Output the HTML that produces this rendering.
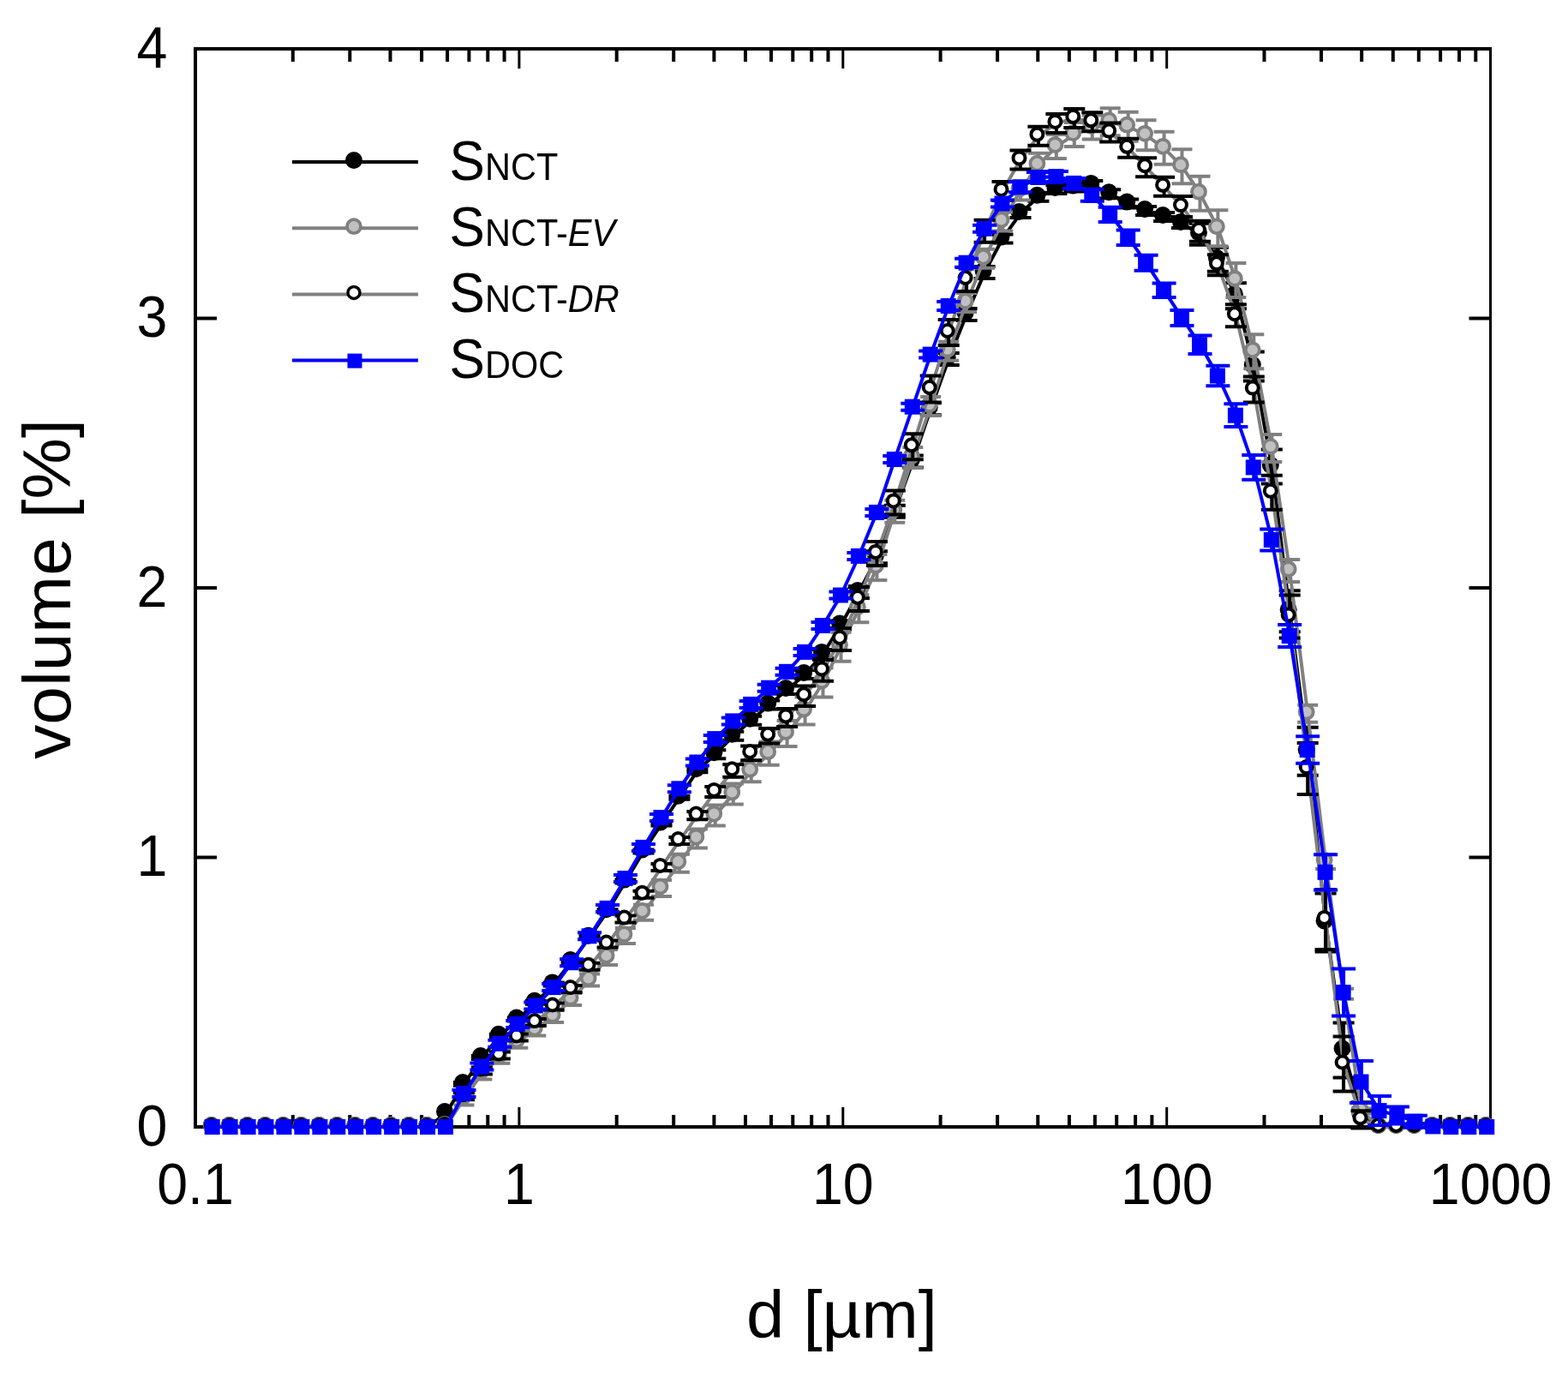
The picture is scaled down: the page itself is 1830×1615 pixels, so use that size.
<!DOCTYPE html>
<html><head><meta charset="utf-8"><title>volume vs d</title>
<style>html,body{margin:0;padding:0;background:#fff;}svg{display:block;}</style></head>
<body><svg width="1830" height="1615" viewBox="0 0 1830 1615">
<rect width="1830" height="1615" fill="#fff"/>
<path d="M341.8,1315.0V1301.0M341.8,57V72M408.3,1315.0V1301.0M408.3,57V72M455.5,1315.0V1301.0M455.5,57V72M492.1,1315.0V1301.0M492.1,57V72M522.1,1315.0V1301.0M522.1,57V72M547.4,1315.0V1301.0M547.4,57V72M569.3,1315.0V1301.0M569.3,57V72M588.6,1315.0V1301.0M588.6,57V72M719.7,1315.0V1301.0M719.7,57V72M786.2,1315.0V1301.0M786.2,57V72M833.4,1315.0V1301.0M833.4,57V72M870.0,1315.0V1301.0M870.0,57V72M900.0,1315.0V1301.0M900.0,57V72M925.3,1315.0V1301.0M925.3,57V72M947.2,1315.0V1301.0M947.2,57V72M966.5,1315.0V1301.0M966.5,57V72M1097.6,1315.0V1301.0M1097.6,57V72M1164.1,1315.0V1301.0M1164.1,57V72M1211.3,1315.0V1301.0M1211.3,57V72M1247.9,1315.0V1301.0M1247.9,57V72M1277.9,1315.0V1301.0M1277.9,57V72M1303.2,1315.0V1301.0M1303.2,57V72M1325.1,1315.0V1301.0M1325.1,57V72M1344.4,1315.0V1301.0M1344.4,57V72M1475.5,1315.0V1301.0M1475.5,57V72M1542.0,1315.0V1301.0M1542.0,57V72M1589.2,1315.0V1301.0M1589.2,57V72M1625.8,1315.0V1301.0M1625.8,57V72M1655.8,1315.0V1301.0M1655.8,57V72M1681.1,1315.0V1301.0M1681.1,57V72M1703.0,1315.0V1301.0M1703.0,57V72M1722.3,1315.0V1301.0M1722.3,57V72" stroke="#000" stroke-width="4" fill="none"/>
<path d="M605.9,1315.0V1292.0M605.9,57V80M983.8,1315.0V1292.0M983.8,57V80M1361.7,1315.0V1292.0M1361.7,57V80" stroke="#000" stroke-width="3" fill="none"/>
<path d="M228.0,1000.5H253.0M1739.5,1000.5H1714.5M228.0,686.0H253.0M1739.5,686.0H1714.5M228.0,371.5H253.0M1739.5,371.5H1714.5" stroke="#000" stroke-width="4" fill="none"/>
<path d="M226,57H1741" stroke="#000" stroke-width="4" fill="none"/>
<path d="M226,1315H1741" stroke="#000" stroke-width="4" fill="none"/>
<path d="M228,55V1317" stroke="#000" stroke-width="4" fill="none"/>
<path d="M1739.5,55V1317" stroke="#000" stroke-width="3" fill="none"/>
<path d="M248.2,1315.0 L269.1,1315.0 L290.1,1315.0 L311.0,1315.0 L332.0,1315.0 L352.9,1315.0 L373.9,1315.0 L394.8,1315.0 L415.8,1315.0 L436.7,1315.0 L457.7,1315.0 L478.6,1315.0 L499.6,1315.0 L520.5,1299.1 L541.5,1265.1 L562.4,1234.0 L583.4,1208.8 L604.3,1189.6 L625.3,1169.8 L646.2,1148.4 L667.2,1122.0 L688.1,1093.7 L709.1,1063.2 L730.0,1028.6 L751.0,993.4 L772.0,961.6 L792.9,930.8 L813.9,899.3 L834.8,880.2 L855.8,858.8 L876.7,840.8 L897.7,822.6 L918.6,805.0 L939.6,787.1 L960.5,762.9 L981.5,729.5 L1002.4,691.1 L1023.4,650.3 L1044.3,596.8 L1065.3,538.6 L1086.2,477.3 L1107.2,419.1 L1128.1,366.9 L1149.1,318.1 L1170.0,278.5 L1191.0,249.0 L1211.9,229.8 L1232.9,221.0 L1253.8,218.5 L1274.8,215.9 L1295.7,226.3 L1316.7,237.6 L1337.6,246.1 L1358.6,253.0 L1379.5,260.9 L1400.5,273.2 L1421.4,302.7 L1442.4,345.2 L1463.3,427.6 L1484.3,544.6 L1505.2,713.2 L1526.2,876.7 L1547.1,1076.4 L1568.1,1225.5 L1589.0,1301.3 L1610.0,1315.0 L1630.9,1315.0 L1651.9,1315.0 L1672.9,1315.0 L1693.8,1315.0 L1714.8,1315.0 L1735.7,1315.0" fill="none" stroke="#000" stroke-width="4" stroke-linejoin="round"/>
<path d="M541.5,1263.1V1267.1M529.0,1263.1H554.0M529.0,1267.1H554.0M562.4,1232.0V1236.0M549.9,1232.0H574.9M549.9,1236.0H574.9M583.4,1206.8V1210.8M570.9,1206.8H595.9M570.9,1210.8H595.9M604.3,1187.6V1191.6M591.8,1187.6H616.8M591.8,1191.6H616.8M625.3,1167.8V1171.8M612.8,1167.8H637.8M612.8,1171.8H637.8M646.2,1146.4V1150.4M633.7,1146.4H658.7M633.7,1150.4H658.7M667.2,1120.0V1124.0M654.7,1120.0H679.7M654.7,1124.0H679.7M688.1,1091.7V1095.7M675.6,1091.7H700.6M675.6,1095.7H700.6M709.1,1061.2V1065.2M696.6,1061.2H721.6M696.6,1065.2H721.6M730.0,1026.6V1030.6M717.5,1026.6H742.5M717.5,1030.6H742.5M751.0,991.4V995.4M738.5,991.4H763.5M738.5,995.4H763.5M772.0,959.6V963.6M759.5,959.6H784.5M759.5,963.6H784.5M792.9,928.8V932.8M780.4,928.8H805.4M780.4,932.8H805.4M813.9,897.3V901.3M801.4,897.3H826.4M801.4,901.3H826.4M834.8,875.2V885.2M822.3,875.2H847.3M822.3,885.2H847.3M855.8,853.8V863.8M843.3,853.8H868.3M843.3,863.8H868.3M876.7,835.8V845.8M864.2,835.8H889.2M864.2,845.8H889.2M897.7,817.6V827.6M885.2,817.6H910.2M885.2,827.6H910.2M918.6,800.0V810.0M906.1,800.0H931.1M906.1,810.0H931.1M939.6,782.1V792.1M927.1,782.1H952.1M927.1,792.1H952.1M960.5,757.9V767.9M948.0,757.9H973.0M948.0,767.9H973.0M981.5,724.5V734.5M969.0,724.5H994.0M969.0,734.5H994.0M1002.4,684.1V698.1M989.9,684.1H1014.9M989.9,698.1H1014.9M1023.4,643.3V657.3M1010.9,643.3H1035.9M1010.9,657.3H1035.9M1044.3,589.8V603.8M1031.8,589.8H1056.8M1031.8,603.8H1056.8M1065.3,531.6V545.6M1052.8,531.6H1077.8M1052.8,545.6H1077.8M1086.2,470.3V484.3M1073.7,470.3H1098.7M1073.7,484.3H1098.7M1107.2,412.1V426.1M1094.7,412.1H1119.7M1094.7,426.1H1119.7M1128.1,359.9V373.9M1115.6,359.9H1140.6M1115.6,373.9H1140.6M1149.1,311.1V325.1M1136.6,311.1H1161.6M1136.6,325.1H1161.6M1170.0,273.5V283.5M1157.5,273.5H1182.5M1157.5,283.5H1182.5M1191.0,244.0V254.0M1178.5,244.0H1203.5M1178.5,254.0H1203.5M1211.9,224.8V234.8M1199.4,224.8H1224.4M1199.4,234.8H1224.4M1232.9,216.0V226.0M1220.4,216.0H1245.4M1220.4,226.0H1245.4M1253.8,213.5V223.5M1241.3,213.5H1266.3M1241.3,223.5H1266.3M1274.8,210.9V220.9M1262.3,210.9H1287.3M1262.3,220.9H1287.3M1295.7,221.3V231.3M1283.2,221.3H1308.2M1283.2,231.3H1308.2M1316.7,232.6V242.6M1304.2,232.6H1329.2M1304.2,242.6H1329.2M1337.6,241.1V251.1M1325.1,241.1H1350.1M1325.1,251.1H1350.1M1358.6,248.0V258.0M1346.1,248.0H1371.1M1346.1,258.0H1371.1M1379.5,255.9V265.9M1367.0,255.9H1392.0M1367.0,265.9H1392.0M1400.5,260.7V285.7M1388.0,260.7H1413.0M1388.0,285.7H1413.0M1421.4,288.7V316.7M1408.9,288.7H1433.9M1408.9,316.7H1433.9M1442.4,330.2V360.2M1429.9,330.2H1454.9M1429.9,360.2H1454.9M1463.3,410.6V444.6M1450.8,410.6H1475.8M1450.8,444.6H1475.8M1484.3,524.6V564.6M1471.8,524.6H1496.8M1471.8,564.6H1496.8M1505.2,689.2V737.2M1492.7,689.2H1517.7M1492.7,737.2H1517.7M1526.2,848.7V904.7M1513.7,848.7H1538.7M1513.7,904.7H1538.7M1547.1,1042.4V1110.4M1534.6,1042.4H1559.6M1534.6,1110.4H1559.6M1568.1,1193.5V1257.5M1555.6,1193.5H1580.6M1555.6,1257.5H1580.6M1589.0,1286.3V1316.3M1576.5,1286.3H1601.5M1576.5,1316.3H1601.5" fill="none" stroke="#000" stroke-width="4"/>
<circle cx="246.7" cy="1313.0" r="10" fill="#000"/>
<circle cx="267.6" cy="1313.0" r="10" fill="#000"/>
<circle cx="288.6" cy="1313.0" r="10" fill="#000"/>
<circle cx="309.5" cy="1313.0" r="10" fill="#000"/>
<circle cx="330.5" cy="1313.0" r="10" fill="#000"/>
<circle cx="351.4" cy="1313.0" r="10" fill="#000"/>
<circle cx="372.4" cy="1313.0" r="10" fill="#000"/>
<circle cx="393.3" cy="1313.0" r="10" fill="#000"/>
<circle cx="414.3" cy="1313.0" r="10" fill="#000"/>
<circle cx="435.2" cy="1313.0" r="10" fill="#000"/>
<circle cx="456.2" cy="1313.0" r="10" fill="#000"/>
<circle cx="477.1" cy="1313.0" r="10" fill="#000"/>
<circle cx="498.1" cy="1313.0" r="10" fill="#000"/>
<circle cx="519.0" cy="1297.1" r="10" fill="#000"/>
<circle cx="540.0" cy="1263.1" r="10" fill="#000"/>
<circle cx="560.9" cy="1232.0" r="10" fill="#000"/>
<circle cx="581.9" cy="1206.8" r="10" fill="#000"/>
<circle cx="602.8" cy="1187.6" r="10" fill="#000"/>
<circle cx="623.8" cy="1167.8" r="10" fill="#000"/>
<circle cx="644.7" cy="1146.4" r="10" fill="#000"/>
<circle cx="665.7" cy="1120.0" r="10" fill="#000"/>
<circle cx="686.6" cy="1091.7" r="10" fill="#000"/>
<circle cx="707.6" cy="1061.2" r="10" fill="#000"/>
<circle cx="728.5" cy="1026.6" r="10" fill="#000"/>
<circle cx="749.5" cy="991.4" r="10" fill="#000"/>
<circle cx="770.5" cy="959.6" r="10" fill="#000"/>
<circle cx="791.4" cy="928.8" r="10" fill="#000"/>
<circle cx="812.4" cy="897.3" r="10" fill="#000"/>
<circle cx="833.3" cy="878.2" r="10" fill="#000"/>
<circle cx="854.3" cy="856.8" r="10" fill="#000"/>
<circle cx="875.2" cy="838.8" r="10" fill="#000"/>
<circle cx="896.2" cy="820.6" r="10" fill="#000"/>
<circle cx="917.1" cy="803.0" r="10" fill="#000"/>
<circle cx="938.1" cy="785.1" r="10" fill="#000"/>
<circle cx="959.0" cy="760.9" r="10" fill="#000"/>
<circle cx="980.0" cy="727.5" r="10" fill="#000"/>
<circle cx="1000.9" cy="689.1" r="10" fill="#000"/>
<circle cx="1021.9" cy="648.3" r="10" fill="#000"/>
<circle cx="1042.8" cy="594.8" r="10" fill="#000"/>
<circle cx="1063.8" cy="536.6" r="10" fill="#000"/>
<circle cx="1084.7" cy="475.3" r="10" fill="#000"/>
<circle cx="1105.7" cy="417.1" r="10" fill="#000"/>
<circle cx="1126.6" cy="364.9" r="10" fill="#000"/>
<circle cx="1147.6" cy="316.1" r="10" fill="#000"/>
<circle cx="1168.5" cy="276.5" r="10" fill="#000"/>
<circle cx="1189.5" cy="247.0" r="10" fill="#000"/>
<circle cx="1210.4" cy="227.8" r="10" fill="#000"/>
<circle cx="1231.4" cy="219.0" r="10" fill="#000"/>
<circle cx="1252.3" cy="216.5" r="10" fill="#000"/>
<circle cx="1273.3" cy="213.9" r="10" fill="#000"/>
<circle cx="1294.2" cy="224.3" r="10" fill="#000"/>
<circle cx="1315.2" cy="235.6" r="10" fill="#000"/>
<circle cx="1336.1" cy="244.1" r="10" fill="#000"/>
<circle cx="1357.1" cy="251.0" r="10" fill="#000"/>
<circle cx="1378.0" cy="258.9" r="10" fill="#000"/>
<circle cx="1399.0" cy="271.2" r="10" fill="#000"/>
<circle cx="1419.9" cy="300.7" r="10" fill="#000"/>
<circle cx="1440.9" cy="343.2" r="10" fill="#000"/>
<circle cx="1461.8" cy="425.6" r="10" fill="#000"/>
<circle cx="1482.8" cy="542.6" r="10" fill="#000"/>
<circle cx="1503.7" cy="711.2" r="10" fill="#000"/>
<circle cx="1524.7" cy="874.7" r="10" fill="#000"/>
<circle cx="1545.6" cy="1074.4" r="10" fill="#000"/>
<circle cx="1566.6" cy="1223.5" r="10" fill="#000"/>
<circle cx="1587.5" cy="1299.3" r="10" fill="#000"/>
<circle cx="1608.5" cy="1313.0" r="10" fill="#000"/>
<circle cx="1629.4" cy="1313.0" r="10" fill="#000"/>
<circle cx="1650.4" cy="1313.0" r="10" fill="#000"/>
<circle cx="1671.4" cy="1313.0" r="10" fill="#000"/>
<circle cx="1692.3" cy="1313.0" r="10" fill="#000"/>
<circle cx="1713.3" cy="1313.0" r="10" fill="#000"/>
<circle cx="1734.2" cy="1313.0" r="10" fill="#000"/>
<path d="M248.2,1315.0 L269.1,1315.0 L290.1,1315.0 L311.0,1315.0 L332.0,1315.0 L352.9,1315.0 L373.9,1315.0 L394.8,1315.0 L415.8,1315.0 L436.7,1315.0 L457.7,1315.0 L478.6,1315.0 L499.6,1315.0 L520.5,1313.9 L541.5,1282.4 L562.4,1252.5 L583.4,1233.7 L604.3,1215.7 L625.3,1201.6 L646.2,1185.9 L667.2,1166.0 L688.1,1143.4 L709.1,1117.0 L730.0,1092.1 L751.0,1064.8 L772.0,1036.5 L792.9,1007.2 L813.9,978.6 L834.8,951.6 L855.8,926.4 L876.7,899.7 L897.7,879.2 L918.6,855.9 L939.6,829.5 L960.5,796.5 L981.5,754.7 L1002.4,710.3 L1023.4,661.9 L1044.3,596.8 L1065.3,533.9 L1086.2,474.1 L1107.2,409.7 L1128.1,353.1 L1149.1,301.8 L1170.0,258.4 L1191.0,222.5 L1211.9,192.7 L1232.9,171.0 L1253.8,157.1 L1274.8,148.6 L1295.7,142.3 L1316.7,147.7 L1337.6,157.8 L1358.6,172.8 L1379.5,194.2 L1400.5,225.7 L1421.4,266.3 L1442.4,327.0 L1463.3,410.3 L1484.3,522.9 L1505.2,666.0 L1526.2,832.7 L1547.1,1005.6 L1568.1,1159.8 L1589.0,1296.6 L1610.0,1315.0 L1630.9,1315.0 L1651.9,1315.0 L1672.9,1315.0 L1693.8,1315.0 L1714.8,1315.0 L1735.7,1315.0" fill="none" stroke="#808080" stroke-width="4" stroke-linejoin="round"/>
<path d="M541.5,1275.4V1289.4M529.5,1275.4H553.5M529.5,1289.4H553.5M562.4,1245.5V1259.5M550.4,1245.5H574.4M550.4,1259.5H574.4M583.4,1226.7V1240.7M571.4,1226.7H595.4M571.4,1240.7H595.4M604.3,1208.7V1222.7M592.3,1208.7H616.3M592.3,1222.7H616.3M625.3,1194.6V1208.6M613.3,1194.6H637.3M613.3,1208.6H637.3M646.2,1178.9V1192.9M634.2,1178.9H658.2M634.2,1192.9H658.2M667.2,1159.0V1173.0M655.2,1159.0H679.2M655.2,1173.0H679.2M688.1,1136.4V1150.4M676.1,1136.4H700.1M676.1,1150.4H700.1M709.1,1108.0V1126.0M697.1,1108.0H721.1M697.1,1126.0H721.1M730.0,1083.1V1101.1M718.0,1083.1H742.0M718.0,1101.1H742.0M751.0,1055.8V1073.8M739.0,1055.8H763.0M739.0,1073.8H763.0M772.0,1027.0V1046.0M760.0,1027.0H784.0M760.0,1046.0H784.0M792.9,996.7V1017.7M780.9,996.7H804.9M780.9,1017.7H804.9M813.9,967.6V989.6M801.9,967.6H825.9M801.9,989.6H825.9M834.8,939.6V963.6M822.8,939.6H846.8M822.8,963.6H846.8M855.8,914.4V938.4M843.8,914.4H867.8M843.8,938.4H867.8M876.7,887.2V912.2M864.7,887.2H888.7M864.7,912.2H888.7M897.7,865.6V892.8M885.7,865.6H909.7M885.7,892.8H909.7M918.6,840.9V870.9M906.6,840.9H930.6M906.6,870.9H930.6M939.6,813.5V845.5M927.6,813.5H951.6M927.6,845.5H951.6M960.5,779.5V813.5M948.5,779.5H972.5M948.5,813.5H972.5M981.5,737.7V771.7M969.5,737.7H993.5M969.5,771.7H993.5M1002.4,694.3V726.3M990.4,694.3H1014.4M990.4,726.3H1014.4M1023.4,646.9V676.9M1011.4,646.9H1035.4M1011.4,676.9H1035.4M1044.3,583.8V609.8M1032.3,583.8H1056.3M1032.3,609.8H1056.3M1065.3,521.9V545.9M1053.3,521.9H1077.3M1053.3,545.9H1077.3M1086.2,463.1V485.1M1074.2,463.1H1098.2M1074.2,485.1H1098.2M1107.2,398.7V420.7M1095.2,398.7H1119.2M1095.2,420.7H1119.2M1128.1,342.1V364.1M1116.1,342.1H1140.1M1116.1,364.1H1140.1M1149.1,290.8V312.8M1137.1,290.8H1161.1M1137.1,312.8H1161.1M1170.0,247.4V269.4M1158.0,247.4H1182.0M1158.0,269.4H1182.0M1191.0,211.5V233.5M1179.0,211.5H1203.0M1179.0,233.5H1203.0M1211.9,178.7V206.7M1199.9,178.7H1223.9M1199.9,206.7H1223.9M1232.9,157.0V185.0M1220.9,157.0H1244.9M1220.9,185.0H1244.9M1253.8,143.1V171.1M1241.8,143.1H1265.8M1241.8,171.1H1265.8M1274.8,134.6V162.6M1262.8,134.6H1286.8M1262.8,162.6H1286.8M1295.7,126.3V158.3M1283.7,126.3H1307.7M1283.7,158.3H1307.7M1316.7,130.7V164.7M1304.7,130.7H1328.7M1304.7,164.7H1328.7M1337.6,140.3V175.3M1325.6,140.3H1349.6M1325.6,175.3H1349.6M1358.6,153.8V191.8M1346.6,153.8H1370.6M1346.6,191.8H1370.6M1379.5,174.2V214.2M1367.5,174.2H1391.5M1367.5,214.2H1391.5M1400.5,205.7V245.7M1388.5,205.7H1412.5M1388.5,245.7H1412.5M1421.4,245.3V287.3M1409.4,245.3H1433.4M1409.4,287.3H1433.4M1442.4,307.0V347.0M1430.4,307.0H1454.4M1430.4,347.0H1454.4M1463.3,390.3V430.3M1451.3,390.3H1475.3M1451.3,430.3H1475.3M1484.3,506.9V538.9M1472.3,506.9H1496.3M1472.3,538.9H1496.3M1505.2,653.0V679.0M1493.2,653.0H1517.2M1493.2,679.0H1517.2M1526.2,822.7V842.7M1514.2,822.7H1538.2M1514.2,842.7H1538.2M1547.1,997.1V1014.1M1535.1,997.1H1559.1M1535.1,1014.1H1559.1M1568.1,1153.8V1165.8M1556.1,1153.8H1580.1M1556.1,1165.8H1580.1M1589.0,1293.6V1299.6M1577.0,1293.6H1601.0M1577.0,1299.6H1601.0" fill="none" stroke="#808080" stroke-width="4"/>
<circle cx="246.7" cy="1313.0" r="8" fill="#c0c0c0" stroke="#808080" stroke-width="3.8"/>
<circle cx="267.6" cy="1313.0" r="8" fill="#c0c0c0" stroke="#808080" stroke-width="3.8"/>
<circle cx="288.6" cy="1313.0" r="8" fill="#c0c0c0" stroke="#808080" stroke-width="3.8"/>
<circle cx="309.5" cy="1313.0" r="8" fill="#c0c0c0" stroke="#808080" stroke-width="3.8"/>
<circle cx="330.5" cy="1313.0" r="8" fill="#c0c0c0" stroke="#808080" stroke-width="3.8"/>
<circle cx="351.4" cy="1313.0" r="8" fill="#c0c0c0" stroke="#808080" stroke-width="3.8"/>
<circle cx="372.4" cy="1313.0" r="8" fill="#c0c0c0" stroke="#808080" stroke-width="3.8"/>
<circle cx="393.3" cy="1313.0" r="8" fill="#c0c0c0" stroke="#808080" stroke-width="3.8"/>
<circle cx="414.3" cy="1313.0" r="8" fill="#c0c0c0" stroke="#808080" stroke-width="3.8"/>
<circle cx="435.2" cy="1313.0" r="8" fill="#c0c0c0" stroke="#808080" stroke-width="3.8"/>
<circle cx="456.2" cy="1313.0" r="8" fill="#c0c0c0" stroke="#808080" stroke-width="3.8"/>
<circle cx="477.1" cy="1313.0" r="8" fill="#c0c0c0" stroke="#808080" stroke-width="3.8"/>
<circle cx="498.1" cy="1313.0" r="8" fill="#c0c0c0" stroke="#808080" stroke-width="3.8"/>
<circle cx="519.0" cy="1311.9" r="8" fill="#c0c0c0" stroke="#808080" stroke-width="3.8"/>
<circle cx="540.0" cy="1280.4" r="8" fill="#c0c0c0" stroke="#808080" stroke-width="3.8"/>
<circle cx="560.9" cy="1250.5" r="8" fill="#c0c0c0" stroke="#808080" stroke-width="3.8"/>
<circle cx="581.9" cy="1231.7" r="8" fill="#c0c0c0" stroke="#808080" stroke-width="3.8"/>
<circle cx="602.8" cy="1213.7" r="8" fill="#c0c0c0" stroke="#808080" stroke-width="3.8"/>
<circle cx="623.8" cy="1199.6" r="8" fill="#c0c0c0" stroke="#808080" stroke-width="3.8"/>
<circle cx="644.7" cy="1183.9" r="8" fill="#c0c0c0" stroke="#808080" stroke-width="3.8"/>
<circle cx="665.7" cy="1164.0" r="8" fill="#c0c0c0" stroke="#808080" stroke-width="3.8"/>
<circle cx="686.6" cy="1141.4" r="8" fill="#c0c0c0" stroke="#808080" stroke-width="3.8"/>
<circle cx="707.6" cy="1115.0" r="8" fill="#c0c0c0" stroke="#808080" stroke-width="3.8"/>
<circle cx="728.5" cy="1090.1" r="8" fill="#c0c0c0" stroke="#808080" stroke-width="3.8"/>
<circle cx="749.5" cy="1062.8" r="8" fill="#c0c0c0" stroke="#808080" stroke-width="3.8"/>
<circle cx="770.5" cy="1034.5" r="8" fill="#c0c0c0" stroke="#808080" stroke-width="3.8"/>
<circle cx="791.4" cy="1005.2" r="8" fill="#c0c0c0" stroke="#808080" stroke-width="3.8"/>
<circle cx="812.4" cy="976.6" r="8" fill="#c0c0c0" stroke="#808080" stroke-width="3.8"/>
<circle cx="833.3" cy="949.6" r="8" fill="#c0c0c0" stroke="#808080" stroke-width="3.8"/>
<circle cx="854.3" cy="924.4" r="8" fill="#c0c0c0" stroke="#808080" stroke-width="3.8"/>
<circle cx="875.2" cy="897.7" r="8" fill="#c0c0c0" stroke="#808080" stroke-width="3.8"/>
<circle cx="896.2" cy="877.2" r="8" fill="#c0c0c0" stroke="#808080" stroke-width="3.8"/>
<circle cx="917.1" cy="853.9" r="8" fill="#c0c0c0" stroke="#808080" stroke-width="3.8"/>
<circle cx="938.1" cy="827.5" r="8" fill="#c0c0c0" stroke="#808080" stroke-width="3.8"/>
<circle cx="959.0" cy="794.5" r="8" fill="#c0c0c0" stroke="#808080" stroke-width="3.8"/>
<circle cx="980.0" cy="752.7" r="8" fill="#c0c0c0" stroke="#808080" stroke-width="3.8"/>
<circle cx="1000.9" cy="708.3" r="8" fill="#c0c0c0" stroke="#808080" stroke-width="3.8"/>
<circle cx="1021.9" cy="659.9" r="8" fill="#c0c0c0" stroke="#808080" stroke-width="3.8"/>
<circle cx="1042.8" cy="594.8" r="8" fill="#c0c0c0" stroke="#808080" stroke-width="3.8"/>
<circle cx="1063.8" cy="531.9" r="8" fill="#c0c0c0" stroke="#808080" stroke-width="3.8"/>
<circle cx="1084.7" cy="472.1" r="8" fill="#c0c0c0" stroke="#808080" stroke-width="3.8"/>
<circle cx="1105.7" cy="407.7" r="8" fill="#c0c0c0" stroke="#808080" stroke-width="3.8"/>
<circle cx="1126.6" cy="351.1" r="8" fill="#c0c0c0" stroke="#808080" stroke-width="3.8"/>
<circle cx="1147.6" cy="299.8" r="8" fill="#c0c0c0" stroke="#808080" stroke-width="3.8"/>
<circle cx="1168.5" cy="256.4" r="8" fill="#c0c0c0" stroke="#808080" stroke-width="3.8"/>
<circle cx="1189.5" cy="220.5" r="8" fill="#c0c0c0" stroke="#808080" stroke-width="3.8"/>
<circle cx="1210.4" cy="190.7" r="8" fill="#c0c0c0" stroke="#808080" stroke-width="3.8"/>
<circle cx="1231.4" cy="169.0" r="8" fill="#c0c0c0" stroke="#808080" stroke-width="3.8"/>
<circle cx="1252.3" cy="155.1" r="8" fill="#c0c0c0" stroke="#808080" stroke-width="3.8"/>
<circle cx="1273.3" cy="146.6" r="8" fill="#c0c0c0" stroke="#808080" stroke-width="3.8"/>
<circle cx="1294.2" cy="140.3" r="8" fill="#c0c0c0" stroke="#808080" stroke-width="3.8"/>
<circle cx="1315.2" cy="145.7" r="8" fill="#c0c0c0" stroke="#808080" stroke-width="3.8"/>
<circle cx="1336.1" cy="155.8" r="8" fill="#c0c0c0" stroke="#808080" stroke-width="3.8"/>
<circle cx="1357.1" cy="170.8" r="8" fill="#c0c0c0" stroke="#808080" stroke-width="3.8"/>
<circle cx="1378.0" cy="192.2" r="8" fill="#c0c0c0" stroke="#808080" stroke-width="3.8"/>
<circle cx="1399.0" cy="223.7" r="8" fill="#c0c0c0" stroke="#808080" stroke-width="3.8"/>
<circle cx="1419.9" cy="264.3" r="8" fill="#c0c0c0" stroke="#808080" stroke-width="3.8"/>
<circle cx="1440.9" cy="325.0" r="8" fill="#c0c0c0" stroke="#808080" stroke-width="3.8"/>
<circle cx="1461.8" cy="408.3" r="8" fill="#c0c0c0" stroke="#808080" stroke-width="3.8"/>
<circle cx="1482.8" cy="520.9" r="8" fill="#c0c0c0" stroke="#808080" stroke-width="3.8"/>
<circle cx="1503.7" cy="664.0" r="8" fill="#c0c0c0" stroke="#808080" stroke-width="3.8"/>
<circle cx="1524.7" cy="830.7" r="8" fill="#c0c0c0" stroke="#808080" stroke-width="3.8"/>
<circle cx="1545.6" cy="1003.6" r="8" fill="#c0c0c0" stroke="#808080" stroke-width="3.8"/>
<circle cx="1566.6" cy="1157.8" r="8" fill="#c0c0c0" stroke="#808080" stroke-width="3.8"/>
<circle cx="1587.5" cy="1294.6" r="8" fill="#c0c0c0" stroke="#808080" stroke-width="3.8"/>
<circle cx="1608.5" cy="1313.0" r="8" fill="#c0c0c0" stroke="#808080" stroke-width="3.8"/>
<circle cx="1629.4" cy="1313.0" r="8" fill="#c0c0c0" stroke="#808080" stroke-width="3.8"/>
<circle cx="1650.4" cy="1313.0" r="8" fill="#c0c0c0" stroke="#808080" stroke-width="3.8"/>
<circle cx="1671.4" cy="1313.0" r="8" fill="#c0c0c0" stroke="#808080" stroke-width="3.8"/>
<circle cx="1692.3" cy="1313.0" r="8" fill="#c0c0c0" stroke="#808080" stroke-width="3.8"/>
<circle cx="1713.3" cy="1313.0" r="8" fill="#c0c0c0" stroke="#808080" stroke-width="3.8"/>
<circle cx="1734.2" cy="1313.0" r="8" fill="#c0c0c0" stroke="#808080" stroke-width="3.8"/>
<path d="M248.2,1315.0 L269.1,1315.0 L290.1,1315.0 L311.0,1315.0 L332.0,1315.0 L352.9,1315.0 L373.9,1315.0 L394.8,1315.0 L415.8,1315.0 L436.7,1315.0 L457.7,1315.0 L478.6,1315.0 L499.6,1315.0 L520.5,1313.9 L541.5,1279.3 L562.4,1249.4 L583.4,1231.5 L604.3,1210.4 L625.3,1193.1 L646.2,1174.5 L667.2,1154.1 L688.1,1127.7 L709.1,1101.6 L730.0,1072.6 L751.0,1043.7 L772.0,1011.9 L792.9,981.1 L813.9,951.6 L834.8,923.9 L855.8,899.3 L876.7,878.9 L897.7,858.8 L918.6,837.4 L939.6,812.2 L960.5,782.4 L981.5,745.9 L1002.4,699.0 L1023.4,645.9 L1044.3,586.4 L1065.3,521.3 L1086.2,454.0 L1107.2,388.0 L1128.1,326.0 L1149.1,269.7 L1170.0,222.9 L1191.0,186.4 L1211.9,158.7 L1232.9,143.9 L1253.8,137.9 L1274.8,142.3 L1295.7,154.6 L1316.7,172.8 L1337.6,195.2 L1358.6,217.8 L1379.5,241.1 L1400.5,269.7 L1421.4,309.3 L1442.4,368.2 L1463.3,454.6 L1484.3,574.8 L1505.2,719.5 L1526.2,897.1 L1547.1,1072.9 L1568.1,1241.5 L1589.0,1306.3 L1610.0,1315.0 L1630.9,1315.0 L1651.9,1315.0 L1672.9,1315.0 L1693.8,1315.0 L1714.8,1315.0 L1735.7,1315.0" fill="none" stroke="#808080" stroke-width="4" stroke-linejoin="round"/>
<path d="M541.5,1275.3V1283.3M529.0,1275.3H554.0M529.0,1283.3H554.0M562.4,1245.4V1253.4M549.9,1245.4H574.9M549.9,1253.4H574.9M583.4,1227.5V1235.5M570.9,1227.5H595.9M570.9,1235.5H595.9M604.3,1206.4V1214.4M591.8,1206.4H616.8M591.8,1214.4H616.8M625.3,1189.1V1197.1M612.8,1189.1H637.8M612.8,1197.1H637.8M646.2,1170.5V1178.5M633.7,1170.5H658.7M633.7,1178.5H658.7M667.2,1150.1V1158.1M654.7,1150.1H679.7M654.7,1158.1H679.7M688.1,1123.7V1131.7M675.6,1123.7H700.6M675.6,1131.7H700.6M709.1,1097.6V1105.6M696.6,1097.6H721.6M696.6,1105.6H721.6M730.0,1068.6V1076.6M717.5,1068.6H742.5M717.5,1076.6H742.5M751.0,1039.7V1047.7M738.5,1039.7H763.5M738.5,1047.7H763.5M772.0,1007.9V1015.9M759.5,1007.9H784.5M759.5,1015.9H784.5M792.9,977.1V985.1M780.4,977.1H805.4M780.4,985.1H805.4M813.9,947.0V956.2M801.4,947.0H826.4M801.4,956.2H826.4M834.8,917.9V929.9M822.3,917.9H847.3M822.3,929.9H847.3M855.8,891.9V906.7M843.3,891.9H868.3M843.3,906.7H868.3M876.7,870.5V887.3M864.2,870.5H889.2M864.2,887.3H889.2M897.7,850.1V867.5M885.2,850.1H910.2M885.2,867.5H910.2M918.6,826.9V847.9M906.1,826.9H931.1M906.1,847.9H931.1M939.6,800.4V824.0M927.1,800.4H952.1M927.1,824.0H952.1M960.5,770.0V794.8M948.0,770.0H973.0M948.0,794.8H973.0M981.5,732.9V758.9M969.0,732.9H994.0M969.0,758.9H994.0M1002.4,685.0V713.0M989.9,685.0H1014.9M989.9,713.0H1014.9M1023.4,631.9V659.9M1010.9,631.9H1035.9M1010.9,659.9H1035.9M1044.3,572.4V600.4M1031.8,572.4H1056.8M1031.8,600.4H1056.8M1065.3,506.3V536.3M1052.8,506.3H1077.8M1052.8,536.3H1077.8M1086.2,438.5V469.5M1073.7,438.5H1098.7M1073.7,469.5H1098.7M1107.2,373.0V403.0M1094.7,373.0H1119.7M1094.7,403.0H1119.7M1128.1,312.0V340.0M1115.6,312.0H1140.6M1115.6,340.0H1140.6M1149.1,256.7V282.7M1136.6,256.7H1161.6M1136.6,282.7H1161.6M1170.0,211.9V233.9M1157.5,211.9H1182.5M1157.5,233.9H1182.5M1191.0,175.4V197.4M1178.5,175.4H1203.5M1178.5,197.4H1203.5M1211.9,147.7V169.7M1199.4,147.7H1224.4M1199.4,169.7H1224.4M1232.9,132.9V154.9M1220.4,132.9H1245.4M1220.4,154.9H1245.4M1253.8,126.9V148.9M1241.3,126.9H1266.3M1241.3,148.9H1266.3M1274.8,131.3V153.3M1262.3,131.3H1287.3M1262.3,153.3H1287.3M1295.7,143.6V165.6M1283.2,143.6H1308.2M1283.2,165.6H1308.2M1316.7,161.8V183.8M1304.2,161.8H1329.2M1304.2,183.8H1329.2M1337.6,184.2V206.2M1325.1,184.2H1350.1M1325.1,206.2H1350.1M1358.6,206.8V228.8M1346.1,206.8H1371.1M1346.1,228.8H1371.1M1379.5,229.1V253.1M1367.0,229.1H1392.0M1367.0,253.1H1392.0M1400.5,257.7V281.7M1388.0,257.7H1413.0M1388.0,281.7H1413.0M1421.4,297.3V321.3M1408.9,297.3H1433.9M1408.9,321.3H1433.9M1442.4,355.2V381.2M1429.9,355.2H1454.9M1429.9,381.2H1454.9M1463.3,439.6V469.6M1450.8,439.6H1475.8M1450.8,469.6H1475.8M1484.3,554.8V594.8M1471.8,554.8H1496.8M1471.8,594.8H1496.8M1505.2,694.5V744.5M1492.7,694.5H1517.7M1492.7,744.5H1517.7M1526.2,867.1V927.1M1513.7,867.1H1538.7M1513.7,927.1H1538.7M1547.1,1037.9V1107.9M1534.6,1037.9H1559.6M1534.6,1107.9H1559.6M1568.1,1209.5V1273.5M1555.6,1209.5H1580.6M1555.6,1273.5H1580.6M1589.0,1296.3V1316.3M1576.5,1296.3H1601.5M1576.5,1316.3H1601.5" fill="none" stroke="#000" stroke-width="4"/>
<circle cx="246.7" cy="1313.0" r="7" fill="#fff" stroke="#000" stroke-width="4"/>
<circle cx="267.6" cy="1313.0" r="7" fill="#fff" stroke="#000" stroke-width="4"/>
<circle cx="288.6" cy="1313.0" r="7" fill="#fff" stroke="#000" stroke-width="4"/>
<circle cx="309.5" cy="1313.0" r="7" fill="#fff" stroke="#000" stroke-width="4"/>
<circle cx="330.5" cy="1313.0" r="7" fill="#fff" stroke="#000" stroke-width="4"/>
<circle cx="351.4" cy="1313.0" r="7" fill="#fff" stroke="#000" stroke-width="4"/>
<circle cx="372.4" cy="1313.0" r="7" fill="#fff" stroke="#000" stroke-width="4"/>
<circle cx="393.3" cy="1313.0" r="7" fill="#fff" stroke="#000" stroke-width="4"/>
<circle cx="414.3" cy="1313.0" r="7" fill="#fff" stroke="#000" stroke-width="4"/>
<circle cx="435.2" cy="1313.0" r="7" fill="#fff" stroke="#000" stroke-width="4"/>
<circle cx="456.2" cy="1313.0" r="7" fill="#fff" stroke="#000" stroke-width="4"/>
<circle cx="477.1" cy="1313.0" r="7" fill="#fff" stroke="#000" stroke-width="4"/>
<circle cx="498.1" cy="1313.0" r="7" fill="#fff" stroke="#000" stroke-width="4"/>
<circle cx="519.0" cy="1311.9" r="7" fill="#fff" stroke="#000" stroke-width="4"/>
<circle cx="540.0" cy="1277.3" r="7" fill="#fff" stroke="#000" stroke-width="4"/>
<circle cx="560.9" cy="1247.4" r="7" fill="#fff" stroke="#000" stroke-width="4"/>
<circle cx="581.9" cy="1229.5" r="7" fill="#fff" stroke="#000" stroke-width="4"/>
<circle cx="602.8" cy="1208.4" r="7" fill="#fff" stroke="#000" stroke-width="4"/>
<circle cx="623.8" cy="1191.1" r="7" fill="#fff" stroke="#000" stroke-width="4"/>
<circle cx="644.7" cy="1172.5" r="7" fill="#fff" stroke="#000" stroke-width="4"/>
<circle cx="665.7" cy="1152.1" r="7" fill="#fff" stroke="#000" stroke-width="4"/>
<circle cx="686.6" cy="1125.7" r="7" fill="#fff" stroke="#000" stroke-width="4"/>
<circle cx="707.6" cy="1099.6" r="7" fill="#fff" stroke="#000" stroke-width="4"/>
<circle cx="728.5" cy="1070.6" r="7" fill="#fff" stroke="#000" stroke-width="4"/>
<circle cx="749.5" cy="1041.7" r="7" fill="#fff" stroke="#000" stroke-width="4"/>
<circle cx="770.5" cy="1009.9" r="7" fill="#fff" stroke="#000" stroke-width="4"/>
<circle cx="791.4" cy="979.1" r="7" fill="#fff" stroke="#000" stroke-width="4"/>
<circle cx="812.4" cy="949.6" r="7" fill="#fff" stroke="#000" stroke-width="4"/>
<circle cx="833.3" cy="921.9" r="7" fill="#fff" stroke="#000" stroke-width="4"/>
<circle cx="854.3" cy="897.3" r="7" fill="#fff" stroke="#000" stroke-width="4"/>
<circle cx="875.2" cy="876.9" r="7" fill="#fff" stroke="#000" stroke-width="4"/>
<circle cx="896.2" cy="856.8" r="7" fill="#fff" stroke="#000" stroke-width="4"/>
<circle cx="917.1" cy="835.4" r="7" fill="#fff" stroke="#000" stroke-width="4"/>
<circle cx="938.1" cy="810.2" r="7" fill="#fff" stroke="#000" stroke-width="4"/>
<circle cx="959.0" cy="780.4" r="7" fill="#fff" stroke="#000" stroke-width="4"/>
<circle cx="980.0" cy="743.9" r="7" fill="#fff" stroke="#000" stroke-width="4"/>
<circle cx="1000.9" cy="697.0" r="7" fill="#fff" stroke="#000" stroke-width="4"/>
<circle cx="1021.9" cy="643.9" r="7" fill="#fff" stroke="#000" stroke-width="4"/>
<circle cx="1042.8" cy="584.4" r="7" fill="#fff" stroke="#000" stroke-width="4"/>
<circle cx="1063.8" cy="519.3" r="7" fill="#fff" stroke="#000" stroke-width="4"/>
<circle cx="1084.7" cy="452.0" r="7" fill="#fff" stroke="#000" stroke-width="4"/>
<circle cx="1105.7" cy="386.0" r="7" fill="#fff" stroke="#000" stroke-width="4"/>
<circle cx="1126.6" cy="324.0" r="7" fill="#fff" stroke="#000" stroke-width="4"/>
<circle cx="1147.6" cy="267.7" r="7" fill="#fff" stroke="#000" stroke-width="4"/>
<circle cx="1168.5" cy="220.9" r="7" fill="#fff" stroke="#000" stroke-width="4"/>
<circle cx="1189.5" cy="184.4" r="7" fill="#fff" stroke="#000" stroke-width="4"/>
<circle cx="1210.4" cy="156.7" r="7" fill="#fff" stroke="#000" stroke-width="4"/>
<circle cx="1231.4" cy="141.9" r="7" fill="#fff" stroke="#000" stroke-width="4"/>
<circle cx="1252.3" cy="135.9" r="7" fill="#fff" stroke="#000" stroke-width="4"/>
<circle cx="1273.3" cy="140.3" r="7" fill="#fff" stroke="#000" stroke-width="4"/>
<circle cx="1294.2" cy="152.6" r="7" fill="#fff" stroke="#000" stroke-width="4"/>
<circle cx="1315.2" cy="170.8" r="7" fill="#fff" stroke="#000" stroke-width="4"/>
<circle cx="1336.1" cy="193.2" r="7" fill="#fff" stroke="#000" stroke-width="4"/>
<circle cx="1357.1" cy="215.8" r="7" fill="#fff" stroke="#000" stroke-width="4"/>
<circle cx="1378.0" cy="239.1" r="7" fill="#fff" stroke="#000" stroke-width="4"/>
<circle cx="1399.0" cy="267.7" r="7" fill="#fff" stroke="#000" stroke-width="4"/>
<circle cx="1419.9" cy="307.3" r="7" fill="#fff" stroke="#000" stroke-width="4"/>
<circle cx="1440.9" cy="366.2" r="7" fill="#fff" stroke="#000" stroke-width="4"/>
<circle cx="1461.8" cy="452.6" r="7" fill="#fff" stroke="#000" stroke-width="4"/>
<circle cx="1482.8" cy="572.8" r="7" fill="#fff" stroke="#000" stroke-width="4"/>
<circle cx="1503.7" cy="717.5" r="7" fill="#fff" stroke="#000" stroke-width="4"/>
<circle cx="1524.7" cy="895.1" r="7" fill="#fff" stroke="#000" stroke-width="4"/>
<circle cx="1545.6" cy="1070.9" r="7" fill="#fff" stroke="#000" stroke-width="4"/>
<circle cx="1566.6" cy="1239.5" r="7" fill="#fff" stroke="#000" stroke-width="4"/>
<circle cx="1587.5" cy="1304.3" r="7" fill="#fff" stroke="#000" stroke-width="4"/>
<circle cx="1608.5" cy="1313.0" r="7" fill="#fff" stroke="#000" stroke-width="4"/>
<circle cx="1629.4" cy="1313.0" r="7" fill="#fff" stroke="#000" stroke-width="4"/>
<circle cx="1650.4" cy="1313.0" r="7" fill="#fff" stroke="#000" stroke-width="4"/>
<circle cx="1671.4" cy="1313.0" r="7" fill="#fff" stroke="#000" stroke-width="4"/>
<circle cx="1692.3" cy="1313.0" r="7" fill="#fff" stroke="#000" stroke-width="4"/>
<circle cx="1713.3" cy="1313.0" r="7" fill="#fff" stroke="#000" stroke-width="4"/>
<circle cx="1734.2" cy="1313.0" r="7" fill="#fff" stroke="#000" stroke-width="4"/>
<path d="M248.2,1315.0 L269.1,1315.0 L290.1,1315.0 L311.0,1315.0 L332.0,1315.0 L352.9,1315.0 L373.9,1315.0 L394.8,1315.0 L415.8,1315.0 L436.7,1315.0 L457.7,1315.0 L478.6,1315.0 L499.6,1315.0 L520.5,1315.0 L541.5,1276.0 L562.4,1244.6 L583.4,1217.8 L604.3,1194.9 L625.3,1173.5 L646.2,1152.1 L667.2,1123.2 L688.1,1092.3 L709.1,1059.9 L730.0,1025.0 L751.0,988.9 L772.0,954.0 L792.9,920.3 L813.9,889.5 L834.8,862.1 L855.8,841.4 L876.7,821.9 L897.7,802.7 L918.6,783.8 L939.6,760.9 L960.5,730.0 L981.5,694.5 L1002.4,648.9 L1023.4,597.9 L1044.3,536.0 L1065.3,474.7 L1086.2,413.6 L1107.2,357.0 L1128.1,306.7 L1149.1,266.8 L1170.0,237.5 L1191.0,218.3 L1211.9,207.0 L1232.9,206.1 L1253.8,213.9 L1274.8,227.8 L1295.7,250.4 L1316.7,277.2 L1337.6,306.7 L1358.6,338.8 L1379.5,370.9 L1400.5,402.3 L1421.4,438.5 L1442.4,484.7 L1463.3,545.4 L1484.3,630.0 L1505.2,742.0 L1526.2,875.0 L1547.1,1017.8 L1568.1,1158.1 L1589.0,1262.5 L1610.0,1296.1 L1630.9,1301.5 L1651.9,1308.7 L1672.9,1314.4 L1693.8,1315.0 L1714.8,1315.0 L1735.7,1315.0" fill="none" stroke="#0000ff" stroke-width="4" stroke-linejoin="round"/>
<path d="M541.5,1272.0V1280.0M527.5,1272.0H555.5M527.5,1280.0H555.5M562.4,1240.6V1248.6M548.4,1240.6H576.4M548.4,1248.6H576.4M583.4,1213.8V1221.8M569.4,1213.8H597.4M569.4,1221.8H597.4M604.3,1190.9V1198.9M590.3,1190.9H618.3M590.3,1198.9H618.3M625.3,1169.5V1177.5M611.3,1169.5H639.3M611.3,1177.5H639.3M646.2,1148.1V1156.1M632.2,1148.1H660.2M632.2,1156.1H660.2M667.2,1119.2V1127.2M653.2,1119.2H681.2M653.2,1127.2H681.2M688.1,1088.3V1096.3M674.1,1088.3H702.1M674.1,1096.3H702.1M709.1,1055.9V1063.9M695.1,1055.9H723.1M695.1,1063.9H723.1M730.0,1021.0V1029.0M716.0,1021.0H744.0M716.0,1029.0H744.0M751.0,984.9V992.9M737.0,984.9H765.0M737.0,992.9H765.0M772.0,950.0V958.0M758.0,950.0H786.0M758.0,958.0H786.0M792.9,916.3V924.3M778.9,916.3H806.9M778.9,924.3H806.9M813.9,885.5V893.5M799.9,885.5H827.9M799.9,893.5H827.9M834.8,858.1V866.1M820.8,858.1H848.8M820.8,866.1H848.8M855.8,837.4V845.4M841.8,837.4H869.8M841.8,845.4H869.8M876.7,817.9V825.9M862.7,817.9H890.7M862.7,825.9H890.7M897.7,798.7V806.7M883.7,798.7H911.7M883.7,806.7H911.7M918.6,779.8V787.8M904.6,779.8H932.6M904.6,787.8H932.6M939.6,756.9V764.9M925.6,756.9H953.6M925.6,764.9H953.6M960.5,726.0V734.0M946.5,726.0H974.5M946.5,734.0H974.5M981.5,690.5V698.5M967.5,690.5H995.5M967.5,698.5H995.5M1002.4,644.9V652.9M988.4,644.9H1016.4M988.4,652.9H1016.4M1023.4,593.9V601.9M1009.4,593.9H1037.4M1009.4,601.9H1037.4M1044.3,532.0V540.0M1030.3,532.0H1058.3M1030.3,540.0H1058.3M1065.3,470.7V478.7M1051.3,470.7H1079.3M1051.3,478.7H1079.3M1086.2,409.6V417.6M1072.2,409.6H1100.2M1072.2,417.6H1100.2M1107.2,352.0V362.0M1093.2,352.0H1121.2M1093.2,362.0H1121.2M1128.1,301.7V311.7M1114.1,301.7H1142.1M1114.1,311.7H1142.1M1149.1,262.8V270.8M1135.1,262.8H1163.1M1135.1,270.8H1163.1M1170.0,233.5V241.5M1156.0,233.5H1184.0M1156.0,241.5H1184.0M1191.0,212.3V224.3M1177.0,212.3H1205.0M1177.0,224.3H1205.0M1211.9,201.0V213.0M1197.9,201.0H1225.9M1197.9,213.0H1225.9M1232.9,200.1V212.1M1218.9,200.1H1246.9M1218.9,212.1H1246.9M1253.8,207.9V219.9M1239.8,207.9H1267.8M1239.8,219.9H1267.8M1274.8,220.8V234.8M1260.8,220.8H1288.8M1260.8,234.8H1288.8M1295.7,241.7V259.1M1281.7,241.7H1309.7M1281.7,259.1H1309.7M1316.7,268.5V285.9M1302.7,268.5H1330.7M1302.7,285.9H1330.7M1337.6,297.7V315.7M1323.6,297.7H1351.6M1323.6,315.7H1351.6M1358.6,330.6V347.0M1344.6,330.6H1372.6M1344.6,347.0H1372.6M1379.5,361.9V379.9M1365.5,361.9H1393.5M1365.5,379.9H1393.5M1400.5,391.5V413.1M1386.5,391.5H1414.5M1386.5,413.1H1414.5M1421.4,426.8V450.2M1407.4,426.8H1435.4M1407.4,450.2H1435.4M1442.4,471.3V498.1M1428.4,471.3H1456.4M1428.4,498.1H1456.4M1463.3,531.1V559.7M1449.3,531.1H1477.3M1449.3,559.7H1477.3M1484.3,617.5V642.5M1470.3,617.5H1498.3M1470.3,642.5H1498.3M1505.2,729.1V754.9M1491.2,729.1H1519.2M1491.2,754.9H1519.2M1526.2,859.3V890.7M1512.2,859.3H1540.2M1512.2,890.7H1540.2M1547.1,997.2V1038.4M1533.1,997.2H1561.1M1533.1,1038.4H1561.1M1568.1,1130.6V1185.6M1554.1,1130.6H1582.1M1554.1,1185.6H1582.1M1589.0,1238.1V1286.9M1575.0,1238.1H1603.0M1575.0,1286.9H1603.0M1610.0,1279.1V1313.1M1596.0,1279.1H1624.0M1596.0,1313.1H1624.0M1630.9,1291.5V1311.5M1616.9,1291.5H1644.9M1616.9,1311.5H1644.9M1651.9,1301.7V1315.7M1637.9,1301.7H1665.9M1637.9,1315.7H1665.9" fill="none" stroke="#0000ff" stroke-width="4"/>
<rect x="238.7" y="1306.0" width="18" height="18" fill="#0000ff"/>
<rect x="259.6" y="1306.0" width="18" height="18" fill="#0000ff"/>
<rect x="280.6" y="1306.0" width="18" height="18" fill="#0000ff"/>
<rect x="301.5" y="1306.0" width="18" height="18" fill="#0000ff"/>
<rect x="322.5" y="1306.0" width="18" height="18" fill="#0000ff"/>
<rect x="343.4" y="1306.0" width="18" height="18" fill="#0000ff"/>
<rect x="364.4" y="1306.0" width="18" height="18" fill="#0000ff"/>
<rect x="385.3" y="1306.0" width="18" height="18" fill="#0000ff"/>
<rect x="406.3" y="1306.0" width="18" height="18" fill="#0000ff"/>
<rect x="427.2" y="1306.0" width="18" height="18" fill="#0000ff"/>
<rect x="448.2" y="1306.0" width="18" height="18" fill="#0000ff"/>
<rect x="469.1" y="1306.0" width="18" height="18" fill="#0000ff"/>
<rect x="490.1" y="1306.0" width="18" height="18" fill="#0000ff"/>
<rect x="511.0" y="1306.0" width="18" height="18" fill="#0000ff"/>
<rect x="532.0" y="1267.0" width="18" height="18" fill="#0000ff"/>
<rect x="552.9" y="1235.6" width="18" height="18" fill="#0000ff"/>
<rect x="573.9" y="1208.8" width="18" height="18" fill="#0000ff"/>
<rect x="594.8" y="1185.9" width="18" height="18" fill="#0000ff"/>
<rect x="615.8" y="1164.5" width="18" height="18" fill="#0000ff"/>
<rect x="636.7" y="1143.1" width="18" height="18" fill="#0000ff"/>
<rect x="657.7" y="1114.2" width="18" height="18" fill="#0000ff"/>
<rect x="678.6" y="1083.3" width="18" height="18" fill="#0000ff"/>
<rect x="699.6" y="1050.9" width="18" height="18" fill="#0000ff"/>
<rect x="720.5" y="1016.0" width="18" height="18" fill="#0000ff"/>
<rect x="741.5" y="979.9" width="18" height="18" fill="#0000ff"/>
<rect x="762.5" y="945.0" width="18" height="18" fill="#0000ff"/>
<rect x="783.4" y="911.3" width="18" height="18" fill="#0000ff"/>
<rect x="804.4" y="880.5" width="18" height="18" fill="#0000ff"/>
<rect x="825.3" y="853.1" width="18" height="18" fill="#0000ff"/>
<rect x="846.3" y="832.4" width="18" height="18" fill="#0000ff"/>
<rect x="867.2" y="812.9" width="18" height="18" fill="#0000ff"/>
<rect x="888.2" y="793.7" width="18" height="18" fill="#0000ff"/>
<rect x="909.1" y="774.8" width="18" height="18" fill="#0000ff"/>
<rect x="930.1" y="751.9" width="18" height="18" fill="#0000ff"/>
<rect x="951.0" y="721.0" width="18" height="18" fill="#0000ff"/>
<rect x="972.0" y="685.5" width="18" height="18" fill="#0000ff"/>
<rect x="992.9" y="639.9" width="18" height="18" fill="#0000ff"/>
<rect x="1013.9" y="588.9" width="18" height="18" fill="#0000ff"/>
<rect x="1034.8" y="527.0" width="18" height="18" fill="#0000ff"/>
<rect x="1055.8" y="465.7" width="18" height="18" fill="#0000ff"/>
<rect x="1076.7" y="404.6" width="18" height="18" fill="#0000ff"/>
<rect x="1097.7" y="348.0" width="18" height="18" fill="#0000ff"/>
<rect x="1118.6" y="297.7" width="18" height="18" fill="#0000ff"/>
<rect x="1139.6" y="257.8" width="18" height="18" fill="#0000ff"/>
<rect x="1160.5" y="228.5" width="18" height="18" fill="#0000ff"/>
<rect x="1181.5" y="209.3" width="18" height="18" fill="#0000ff"/>
<rect x="1202.4" y="198.0" width="18" height="18" fill="#0000ff"/>
<rect x="1223.4" y="197.1" width="18" height="18" fill="#0000ff"/>
<rect x="1244.3" y="204.9" width="18" height="18" fill="#0000ff"/>
<rect x="1265.3" y="218.8" width="18" height="18" fill="#0000ff"/>
<rect x="1286.2" y="241.4" width="18" height="18" fill="#0000ff"/>
<rect x="1307.2" y="268.2" width="18" height="18" fill="#0000ff"/>
<rect x="1328.1" y="297.7" width="18" height="18" fill="#0000ff"/>
<rect x="1349.1" y="329.8" width="18" height="18" fill="#0000ff"/>
<rect x="1370.0" y="361.9" width="18" height="18" fill="#0000ff"/>
<rect x="1391.0" y="393.3" width="18" height="18" fill="#0000ff"/>
<rect x="1411.9" y="429.5" width="18" height="18" fill="#0000ff"/>
<rect x="1432.9" y="475.7" width="18" height="18" fill="#0000ff"/>
<rect x="1453.8" y="536.4" width="18" height="18" fill="#0000ff"/>
<rect x="1474.8" y="621.0" width="18" height="18" fill="#0000ff"/>
<rect x="1495.7" y="733.0" width="18" height="18" fill="#0000ff"/>
<rect x="1516.7" y="866.0" width="18" height="18" fill="#0000ff"/>
<rect x="1537.6" y="1008.8" width="18" height="18" fill="#0000ff"/>
<rect x="1558.6" y="1149.1" width="18" height="18" fill="#0000ff"/>
<rect x="1579.5" y="1253.5" width="18" height="18" fill="#0000ff"/>
<rect x="1600.5" y="1287.1" width="18" height="18" fill="#0000ff"/>
<rect x="1621.4" y="1292.5" width="18" height="18" fill="#0000ff"/>
<rect x="1642.4" y="1299.7" width="18" height="18" fill="#0000ff"/>
<rect x="1663.4" y="1305.4" width="18" height="18" fill="#0000ff"/>
<rect x="1684.3" y="1306.0" width="18" height="18" fill="#0000ff"/>
<rect x="1705.3" y="1306.0" width="18" height="18" fill="#0000ff"/>
<rect x="1726.2" y="1306.0" width="18" height="18" fill="#0000ff"/>
<text transform="translate(195.5,1336.7) scale(0.985,1.055)" text-anchor="end" font-size="65.5" font-family="Liberation Sans, Arial, sans-serif">0</text>
<text transform="translate(195.5,1022.2) scale(0.985,1.055)" text-anchor="end" font-size="65.5" font-family="Liberation Sans, Arial, sans-serif">1</text>
<text transform="translate(195.5,707.7) scale(0.985,1.055)" text-anchor="end" font-size="65.5" font-family="Liberation Sans, Arial, sans-serif">2</text>
<text transform="translate(195.5,393.2) scale(0.985,1.055)" text-anchor="end" font-size="65.5" font-family="Liberation Sans, Arial, sans-serif">3</text>
<text transform="translate(195.5,78.7) scale(0.985,1.055)" text-anchor="end" font-size="65.5" font-family="Liberation Sans, Arial, sans-serif">4</text>
<text transform="translate(228.0,1405) scale(0.985,1.055)" text-anchor="middle" font-size="65.5" font-family="Liberation Sans, Arial, sans-serif">0.1</text>
<text transform="translate(605.9,1405) scale(0.985,1.055)" text-anchor="middle" font-size="65.5" font-family="Liberation Sans, Arial, sans-serif">1</text>
<text transform="translate(983.8,1405) scale(0.985,1.055)" text-anchor="middle" font-size="65.5" font-family="Liberation Sans, Arial, sans-serif">10</text>
<text transform="translate(1361.7,1405) scale(0.985,1.055)" text-anchor="middle" font-size="65.5" font-family="Liberation Sans, Arial, sans-serif">100</text>
<text transform="translate(1739.6,1405) scale(0.985,1.055)" text-anchor="middle" font-size="65.5" font-family="Liberation Sans, Arial, sans-serif">1000</text>
<text transform="translate(982.5,1561) scale(1.035,1)" text-anchor="middle" font-size="77" font-family="Liberation Sans, Arial, sans-serif">d [µm]</text>
<text transform="translate(82,687.4) rotate(-90) scale(1.029,1)" text-anchor="middle" font-size="78" font-family="Liberation Sans, Arial, sans-serif">volume [%]</text>
<path d="M341,189.0H488" stroke="#000" stroke-width="4"/>
<circle cx="413" cy="187.0" r="10" fill="#000"/>
<text transform="translate(524.6,209.5) scale(1,1.05)" font-size="62" font-family="Liberation Sans, Arial, sans-serif">S<tspan font-size="41.5">NCT</tspan></text>
<path d="M341,266.2H488" stroke="#808080" stroke-width="4"/>
<circle cx="413" cy="264.2" r="8" fill="#c0c0c0" stroke="#808080" stroke-width="3.8"/>
<text transform="translate(524.6,286.7) scale(1,1.05)" font-size="62" font-family="Liberation Sans, Arial, sans-serif">S<tspan font-size="41.5">NCT-<tspan font-style="italic">EV</tspan></tspan></text>
<path d="M341,343.4H488" stroke="#808080" stroke-width="4"/>
<circle cx="413" cy="341.4" r="7" fill="#fff" stroke="#000" stroke-width="3.5"/>
<text transform="translate(524.6,363.9) scale(1,1.05)" font-size="62" font-family="Liberation Sans, Arial, sans-serif">S<tspan font-size="41.5">NCT-<tspan font-style="italic">DR</tspan></tspan></text>
<path d="M341,420.6H488" stroke="#0000ff" stroke-width="4"/>
<rect x="405.5" y="412.6" width="17" height="17" fill="#0000ff"/>
<text transform="translate(524.6,441.1) scale(1,1.05)" font-size="62" font-family="Liberation Sans, Arial, sans-serif">S<tspan font-size="41.5">DOC</tspan></text>
</svg></body></html>
